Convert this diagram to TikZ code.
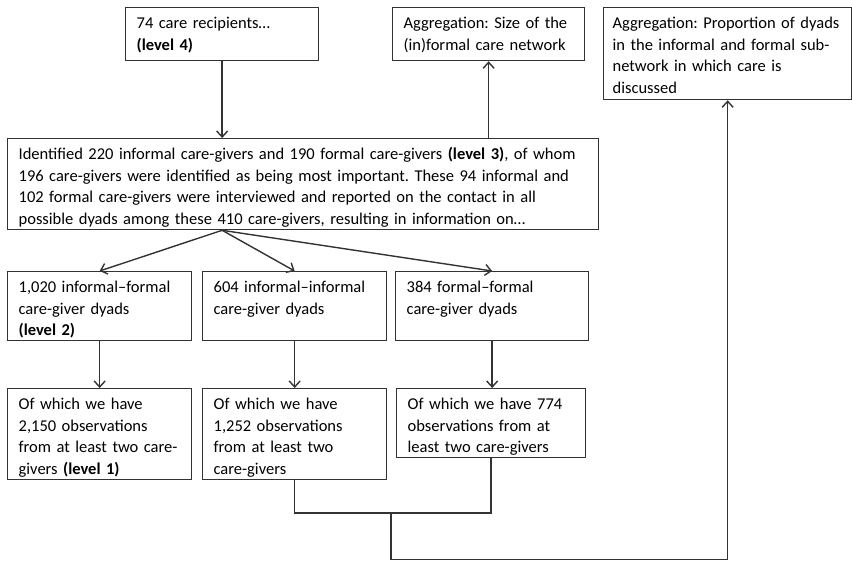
\documentclass[tikz,border=0pt]{standalone}
\usepackage{fontspec}
\setmainfont{Carlito}
\usetikzlibrary{arrows.meta}
\frenchspacing

\begin{document}
\begin{tikzpicture}[x=1pt,y=-1pt,
  box/.style={draw=black!80, line width=1.3pt, anchor=north west, align=left,
    inner xsep=11pt, inner ysep=0pt, text height=21pt,
    font=\fontsize{16.5}{21.5}\selectfont},
  link/.style={draw=black!80, line width=1.4pt},
  arr/.style={link, -{Straight Barb[length=6pt,width=11pt]}}]
\useasboundingbox (0,0) rectangle (852,561);
% top row
\node[box, text width=171pt, text depth=32pt] (recip) at (125,7)
  {74 care recipients\dots\\\textbf{(level 4)}};
\node[box, text width=170pt, text depth=32pt] (size) at (392,7)
  {Aggregation: Size of the\\(in)formal care network};
\node[box, inner xsep=9pt, text width=230pt, text depth=71pt] (prop) at (603,7)
  {Aggregation: Proportion of dyads\\in the informal and formal sub-\\network in which care is\\discussed};
% level 3
\node[box, text width=569pt, text depth=70pt] (givers) at (7,138)
  {Identified 220 informal care-givers and 190 formal care-givers \textbf{(level 3)}, of whom\\
   196 care-givers were identified as being most important. These 94 informal and\\
   102 formal care-givers were interviewed and reported on the contact in all\\
   possible dyads among these 410 care-givers, resulting in information on\dots};
% level 2
\node[box, text width=162pt, text depth=48pt] (infform) at (7,271)
  {1,020 informal--formal\\care-giver dyads\\\textbf{(level 2)}};
\node[box, text width=162pt, text depth=48pt] (infinf) at (202,271)
  {604 informal--informal\\care-giver dyads};
\node[box, text width=171pt, text depth=48pt] (formform) at (395,271)
  {384 formal--formal\\care-giver dyads};
% level 1
\node[box, text width=162pt, text depth=70pt] (obs1) at (7,388)
  {Of which we have\\2,150 observations\\from at least two care-\\givers \textbf{(level 1)}};
\node[box, text width=162pt, text depth=70pt] (obs2) at (202,388)
  {Of which we have\\1,252 observations\\from at least two\\care-givers};
\node[box, text width=167pt, text depth=48pt] (obs3) at (396,388)
  {Of which we have 774\\observations from at\\least two care-givers};
\coordinate (split) at (recip.south |- givers.south);
\coordinate (merge) at (391,513);
\coordinate (low) at (391,559.5);

\draw[arr] (recip.south) -- (recip.south |- givers.north);
\draw[arr] (size.south |- givers.north) -- (size.south);
\draw[arr] (split) -- (infform.north);
\draw[arr] (split) -- (infinf.north);
\draw[arr] (split) -- (formform.north);
\draw[arr] (infform.south) -- (obs1.north);
\draw[arr] (infinf.south) -- (obs2.north);
\draw[arr] (formform.south) -- (formform.south |- obs3.north);
\draw[link] (obs2.south) |- (merge) -| (obs3.south);
\draw[arr] (merge) -- (low) -| (prop.south);
\end{tikzpicture}
\end{document}
